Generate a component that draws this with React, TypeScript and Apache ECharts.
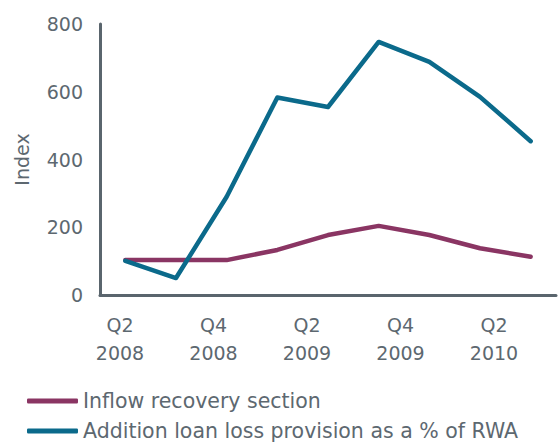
import React, { useEffect, useRef } from "react";
import * as echarts from "echarts";

const categories = ["Q2 2008", "Q3 2008", "Q4 2008", "Q1 2009", "Q2 2009", "Q3 2009", "Q4 2009", "Q1 2010", "Q2 2010"];
const inflowRecovery = [103, 103, 103, 133, 177, 204, 177, 138, 113];
const additionLoanLoss = [101, 50, 290, 583, 555, 747, 688, 585, 454];
const tickLabels = ["Q2\n2008", "Q4\n2008", "Q2\n2009", "Q4\n2009", "Q2\n2010"];
const tickPositions = [0, 1, 2, 3, 4];

const TEXT = "#5d6870";
const AXIS = "#5a656d";
const PURPLE = "#8a3563";
const BLUE = "#0b6a8b";
const FONT = "DejaVu Sans";

export default function App() {
  const ref = useRef<HTMLDivElement>(null);
  useEffect(() => {
    if (!ref.current) return;
    const chart = echarts.init(ref.current, undefined, { renderer: "svg" });
    chart.setOption({
      animation: false,
      textStyle: { fontFamily: FONT, color: TEXT },
      grid: { left: 100, right: 4, top: 24, bottom: 147, containLabel: false, outerBoundsMode: "none" },
      legend: {
        orient: "vertical",
        left: 27,
        top: 390,
        height: 80,
        padding: 0,
        itemWidth: 51,
        itemHeight: 5,
        itemGap: 8,
        icon: "roundRect",
        textStyle: { fontFamily: FONT, fontSize: 20.5, lineHeight: 22, color: TEXT },
        data: ["Inflow recovery section", "Addition loan loss provision as a % of RWA"],
      },
      xAxis: [
        {
          type: "category",
          data: categories,
          boundaryGap: true,
          axisLine: { onZero: false, lineStyle: { color: AXIS, width: 3 } },
          axisTick: { show: false },
          axisLabel: { show: false },
        },
        {
          type: "value",
          position: "bottom",
          min: -20 / 93.5,
          max: 436 / 93.5,
          axisLine: { show: false, onZero: false },
          axisTick: { show: false },
          splitLine: { show: false },
          axisLabel: {
            customValues: tickPositions,
            formatter: (v: number) => tickLabels[Math.round(v)] ?? "",
            fontFamily: FONT,
            fontSize: 19,
            color: TEXT,
            lineHeight: 28,
            margin: 16,
          },
        },
      ],
      yAxis: {
        type: "value",
        min: 0,
        max: 800,
        interval: 200,
        name: "Index",
        nameLocation: "middle",
        nameGap: 69,
        nameMoveOverlap: false,
        nameTextStyle: { fontFamily: FONT, fontSize: 19, color: TEXT },
        axisLine: { show: true, onZero: false, lineStyle: { color: AXIS, width: 3 } },
        axisTick: { show: false },
        splitLine: { show: false },
        axisLabel: { fontFamily: FONT, fontSize: 19, color: TEXT, margin: 17 },
      },
      series: [
        {
          name: "Inflow recovery section",
          type: "line",
          xAxisIndex: 0,
          data: inflowRecovery,
          symbol: "none",
          lineStyle: { color: PURPLE, width: 4.5, cap: "round", join: "round" },
          itemStyle: { color: PURPLE },
        },
        {
          name: "Addition loan loss provision as a % of RWA",
          type: "line",
          xAxisIndex: 0,
          data: additionLoanLoss,
          symbol: "none",
          lineStyle: { color: BLUE, width: 4.5, cap: "round", join: "round" },
          itemStyle: { color: BLUE },
        },
      ],
    });
    return () => chart.dispose();
  }, []);
  return <div ref={ref} style={{ position: "absolute", left: 0, top: 0, width: 560, height: 442 }} />;
}
